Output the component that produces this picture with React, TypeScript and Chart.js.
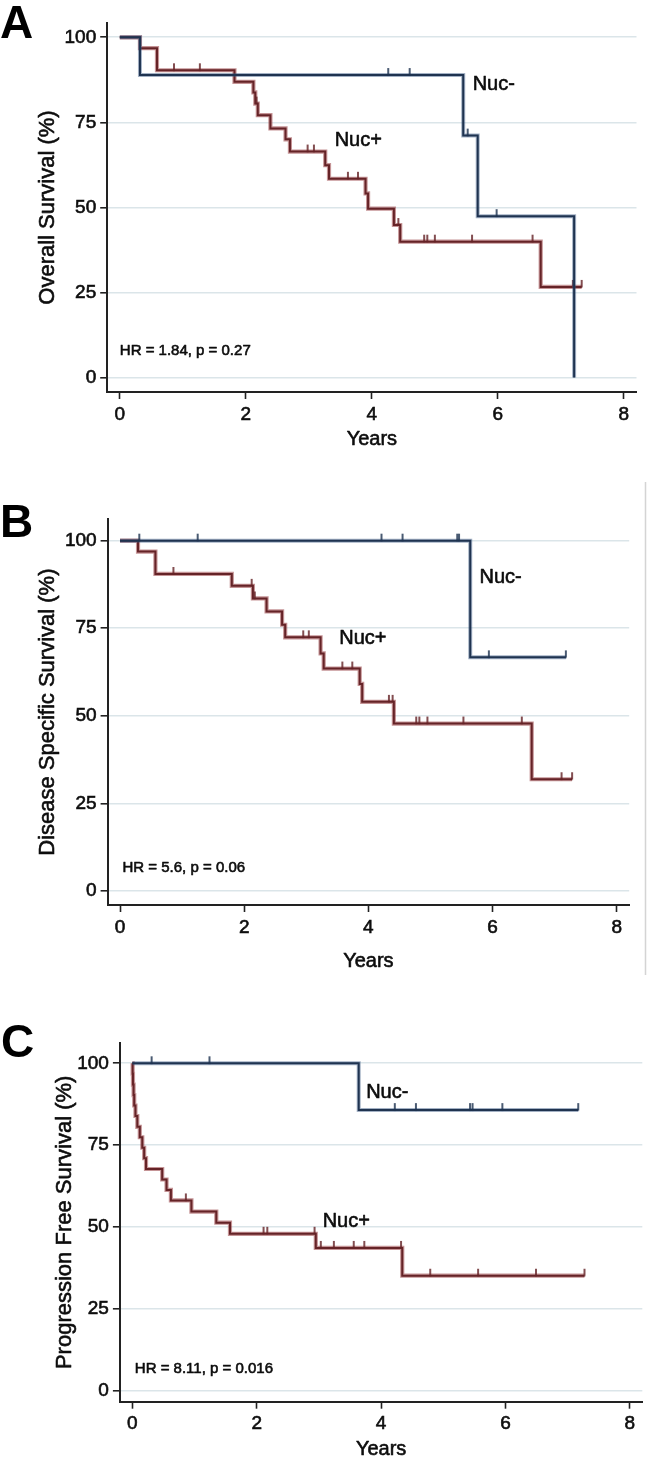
import React, { useEffect, useRef } from 'react';
import { Chart, registerables } from 'chart.js';

Chart.register(...registerables);

const FAMILY = '"Liberation Sans", Arial, Helvetica, sans-serif';
Chart.defaults.font.family = FAMILY;

// ---------- shared ticks ----------
const yearTicks = [0, 2, 4, 6, 8];
const survivalTicks = [0, 25, 50, 75, 100];

// ---------- Panel A: Overall survival ----------
const osNegTimes = [0, 0.32, 5.45, 5.68, 7.21];
const osNegSurv = [100, 88.9, 71.1, 47.4, 0];
const osNegCensor = [4.26, 4.6, 5.52, 5.98];

const osPosTimes = [0, 0.32, 0.59, 1.82, 2.12, 2.15, 2.19, 2.39, 2.63, 2.7, 3.26, 3.32, 3.9, 3.94, 4.35, 4.45, 6.68, 7.33];
const osPosSurv = [100, 96.8, 90.3, 86.9, 83.8, 80.5, 77.1, 73.2, 70.0, 66.4, 62.4, 58.4, 54.1, 49.6, 44.8, 39.9, 26.6, 26.6];
const osPosCensor = [0.86, 1.27, 2.17, 2.98, 3.08, 3.62, 3.78, 4.42, 4.83, 4.88, 5.0, 5.59, 6.55, 7.19, 7.33];

// ---------- Panel B: Disease specific survival ----------
const dssNegTimes = [0, 5.64, 7.18];
const dssNegSurv = [100, 66.7, 66.7];
const dssNegCensor = [0.31, 1.25, 4.21, 4.55, 5.43, 5.46, 5.94, 7.18];

const dssPosTimes = [0, 0.29, 0.57, 1.8, 2.14, 2.36, 2.61, 2.66, 3.23, 3.28, 3.86, 3.9, 4.41, 6.63, 7.28];
const dssPosSurv = [100, 96.9, 90.5, 87.1, 83.5, 79.8, 76.0, 72.4, 67.8, 63.5, 59.1, 54.0, 47.8, 31.9, 31.9];
const dssPosCensor = [0.86, 2.12, 2.17, 2.95, 3.04, 3.58, 3.74, 4.33, 4.39, 4.77, 4.82, 4.95, 5.53, 6.47, 7.11, 7.28];

// ---------- Panel C: Progression free survival ----------
const pfsNegTimes = [0, 3.64, 7.17];
const pfsNegSurv = [100, 85.7, 85.7];
const pfsNegCensor = [0.31, 1.24, 4.22, 4.56, 5.43, 5.47, 5.95, 7.17];

const pfsPosTimes = [0, 0.005, 0.01, 0.02, 0.03, 0.05, 0.08, 0.12, 0.16, 0.19, 0.22, 0.48, 0.55, 0.62, 0.95, 1.35, 1.57, 2.95, 4.34, 7.27];
const pfsPosSurv = [100, 96.8, 93.5, 90.3, 87.1, 83.9, 80.6, 77.4, 74.2, 71.0, 67.7, 64.5, 61.3, 58.1, 54.7, 51.3, 47.9, 43.6, 35.1, 35.1];
const pfsPosCensor = [0.86, 2.11, 2.17, 2.93, 3.03, 3.24, 3.56, 3.73, 4.32, 4.79, 5.56, 6.49, 7.27];

// ---------- styles ----------
const BLUE_CORE = '#1f3350';
const BLUE_HALO = 'rgba(50, 82, 125, 0.45)';
const RED_CORE = '#652327';
const RED_HALO = 'rgba(150, 60, 64, 0.55)';
const AXIS = '#222222';
const GRID = '#dbe5e9';
const TEXT = '#0d0d0d';
const STROKE = 0.6;

type Curve = { times: number[]; surv: number[]; censor: number[] };

type PanelSpec = {
  letter: string;
  yTitle: string;
  hr: string;
  top: number;
  height: number;
  area: { left: number; right: number; top: number; bottom: number };
  yMin: number;
  yMax: number;
  yTitleX: number;
  xTitleY: number;
  letterPos: { x: number; y: number };
  hrPos: { x: number; y: number };
  negLabel: { x: number; y: number };
  posLabel: { x: number; y: number };
  neg: Curve;
  pos: Curve;
  edgeLine?: boolean;
};

const panels: PanelSpec[] = [
  {
    letter: 'A',
    yTitle: 'Overall Survival (%)',
    hr: 'HR = 1.84, p = 0.27',
    top: 0,
    height: 480,
    area: { left: 107.2, right: 636.5, top: 23, bottom: 392 },
    yMin: -4.3,
    yMax: 104.2,
    yTitleX: 48,
    xTitleY: 439,
    letterPos: { x: 0, y: 37.5 },
    hrPos: { x: 0.0, y: 6.6 },
    negLabel: { x: 5.6, y: 84.5 },
    posLabel: { x: 3.41, y: 68.0 },
    neg: { times: osNegTimes, surv: osNegSurv, censor: osNegCensor },
    pos: { times: osPosTimes, surv: osPosSurv, censor: osPosCensor },
  },
  {
    letter: 'B',
    yTitle: 'Disease Specific Survival (%)',
    hr: 'HR = 5.6, p = 0.06',
    top: 480,
    height: 500,
    area: { left: 107.6, right: 629.2, top: 39.3, bottom: 425 },
    yMin: -4.0,
    yMax: 106.1,
    yTitleX: 48,
    xTitleY: 481,
    letterPos: { x: 0, y: 57 },
    hrPos: { x: 0.04, y: 5.3 },
    negLabel: { x: 5.79, y: 87.9 },
    posLabel: { x: 3.53, y: 70.5 },
    neg: { times: dssNegTimes, surv: dssNegSurv, censor: dssNegCensor },
    pos: { times: dssPosTimes, surv: dssPosSurv, censor: dssPosCensor },
    edgeLine: true,
  },
  {
    letter: 'C',
    yTitle: 'Progression Free Survival (%)',
    hr: 'HR = 8.11, p = 0.016',
    top: 980,
    height: 480,
    area: { left: 119.9, right: 642.3, top: 63, bottom: 421.7 },
    yMin: -3.4,
    yMax: 106.2,
    yTitleX: 65,
    xTitleY: 469,
    letterPos: { x: 1, y: 77 },
    hrPos: { x: 0.04, y: 5.4 },
    negLabel: { x: 3.76, y: 89.3 },
    posLabel: { x: 3.06, y: 50.1 },
    neg: { times: pfsNegTimes, surv: pfsNegSurv, censor: pfsNegCensor },
    pos: { times: pfsPosTimes, surv: pfsPosSurv, censor: pfsPosCensor },
  },
];

function stepPoints(c: Curve) {
  return c.times.map((t, i) => ({ x: t, y: c.surv[i] }));
}

function censorPoints(c: Curve) {
  return c.censor.map((ct) => {
    let v = c.surv[0];
    for (let i = 0; i < c.times.length; i++) if (c.times[i] <= ct) v = c.surv[i];
    return { x: ct, y: v };
  });
}

function makeTick(color: string) {
  const cv = document.createElement('canvas');
  cv.width = 4;
  cv.height = 16;
  const g = cv.getContext('2d')!;
  g.fillStyle = color;
  g.fillRect(1.2, 1, 1.6, 7.5);
  return cv;
}

function drawText(ctx: any, text: string, x: number, y: number) {
  ctx.fillText(text, x, y);
  ctx.strokeText(text, x, y);
}

function buildConfig(spec: PanelSpec): any {
  const W = 650;
  const H = spec.height;
  const area = spec.area;
  const tickBlue = makeTick(BLUE_CORE);
  const tickRed = makeTick(RED_CORE);

  const annot = {
    id: 'annot' + spec.letter,
    afterDatasetsDraw(chart: any) {
      const { ctx, chartArea } = chart;
      const x = chart.scales.x;
      const y = chart.scales.y;
      ctx.save();
      ctx.lineJoin = 'round';
      ctx.fillStyle = '#000';
      ctx.textAlign = 'left';
      ctx.textBaseline = 'alphabetic';
      ctx.font = `bold 46px ${FAMILY}`;
      ctx.fillText(spec.letter, spec.letterPos.x, spec.letterPos.y);

      ctx.fillStyle = TEXT;
      ctx.strokeStyle = TEXT;
      ctx.lineWidth = STROKE;
      ctx.font = `15px ${FAMILY}`;
      drawText(ctx, spec.hr, x.getPixelForValue(spec.hrPos.x), y.getPixelForValue(spec.hrPos.y));
      ctx.font = `20px ${FAMILY}`;
      drawText(ctx, 'Nuc-', x.getPixelForValue(spec.negLabel.x), y.getPixelForValue(spec.negLabel.y));
      drawText(ctx, 'Nuc+', x.getPixelForValue(spec.posLabel.x), y.getPixelForValue(spec.posLabel.y));

      // axis titles
      ctx.textAlign = 'center';
      ctx.textBaseline = 'middle';
      ctx.font = `20px ${FAMILY}`;
      drawText(ctx, 'Years', (chartArea.left + chartArea.right) / 2, spec.xTitleY);
      ctx.save();
      ctx.translate(spec.yTitleX, (chartArea.top + chartArea.bottom) / 2);
      ctx.rotate(-Math.PI / 2);
      ctx.font = `22px ${FAMILY}`;
      drawText(ctx, spec.yTitle, 0, 0);
      ctx.restore();

      if (spec.edgeLine) {
        ctx.strokeStyle = '#d4d4d4';
        ctx.lineWidth = 1.5;
        ctx.beginPath();
        ctx.moveTo(645.5, 2);
        ctx.lineTo(645.5, H - 5);
        ctx.stroke();
      }
      ctx.restore();
    },
  };

  const lineBase = {
    showLine: true,
    stepped: true,
    pointRadius: 0,
    borderJoinStyle: 'miter',
    borderCapStyle: 'butt',
    fill: false,
  };

  const tickFont = { size: 19 };

  return {
    type: 'scatter',
    data: {
      datasets: [
        { data: censorPoints(spec.neg), showLine: false, pointStyle: tickBlue, pointRadius: 4 },
        { ...lineBase, data: stepPoints(spec.neg), borderColor: BLUE_CORE, borderWidth: 2 },
        { ...lineBase, data: stepPoints(spec.neg), borderColor: BLUE_HALO, borderWidth: 4 },
        { data: censorPoints(spec.pos), showLine: false, pointStyle: tickRed, pointRadius: 4 },
        { ...lineBase, data: stepPoints(spec.pos), borderColor: RED_CORE, borderWidth: 2 },
        { ...lineBase, data: stepPoints(spec.pos), borderColor: RED_HALO, borderWidth: 4.2 },
      ],
    },
    options: {
      responsive: false,
      animation: false,
      events: [],
      layout: { padding: { left: 0, top: area.top, right: W - area.right, bottom: 0 } },
      plugins: {
        legend: { display: false },
        tooltip: { enabled: false },
        title: { display: false },
      },
      scales: {
        x: {
          type: 'linear',
          min: -0.2,
          max: 8.2,
          afterBuildTicks: (s: any) => {
            s.ticks = yearTicks.map((v) => ({ value: v }));
          },
          afterFit: (s: any) => {
            s.height = H - area.bottom;
          },
          grid: {
            display: true,
            drawOnChartArea: false,
            drawTicks: true,
            tickLength: 7,
            tickColor: AXIS,
            tickWidth: 1.6,
          },
          border: { display: true, color: AXIS, width: 2 },
          ticks: {
            color: TEXT,
            font: tickFont,
            padding: 4,
            maxRotation: 0,
            autoSkip: false,
            textStrokeColor: TEXT,
            textStrokeWidth: STROKE,
          },
          title: { display: false },
        },
        y: {
          type: 'linear',
          min: spec.yMin,
          max: spec.yMax,
          afterBuildTicks: (s: any) => {
            s.ticks = survivalTicks.map((v) => ({ value: v }));
          },
          afterFit: (s: any) => {
            s.width = area.left;
          },
          grid: {
            display: true,
            color: GRID,
            lineWidth: 1.6,
            drawOnChartArea: true,
            drawTicks: true,
            tickLength: 7,
            tickColor: AXIS,
            tickWidth: 1.6,
          },
          border: { display: true, color: AXIS, width: 2 },
          ticks: {
            color: TEXT,
            font: tickFont,
            padding: 4,
            autoSkip: false,
            textStrokeColor: TEXT,
            textStrokeWidth: STROKE,
          },
          title: { display: false },
        },
      },
    },
    plugins: [annot],
  };
}

function Panel({ spec }: { spec: PanelSpec }) {
  const ref = useRef<HTMLCanvasElement | null>(null);
  useEffect(() => {
    if (!ref.current) return;
    const chart = new Chart(ref.current, buildConfig(spec));
    return () => chart.destroy();
  }, [spec]);
  return (
    <canvas
      ref={ref}
      width={650}
      height={spec.height}
      style={{ position: 'absolute', left: 0, top: spec.top, width: 650, height: spec.height }}
    />
  );
}

export default function App() {
  return (
    <div
      style={{
        position: 'absolute',
        left: 0,
        top: 0,
        width: 650,
        height: 1460,
        background: '#ffffff',
        overflow: 'hidden',
      }}
    >
      {panels.map((p) => (
        <Panel key={p.letter} spec={p} />
      ))}
    </div>
  );
}
